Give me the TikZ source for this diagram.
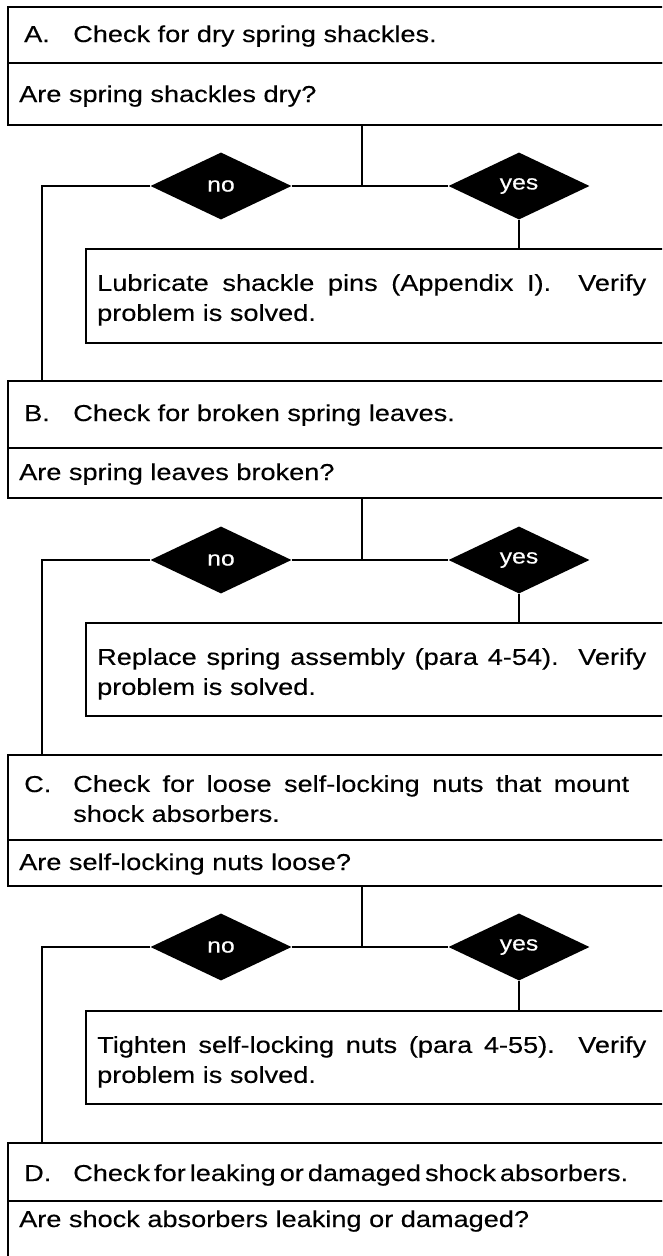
\documentclass[tikz,border=0pt]{standalone}
\usepackage{fontspec}
\setmainfont{Liberation Sans}[FakeStretch=1.18, FakeBold=0.3]
\usetikzlibrary{shapes.geometric}

\begin{document}
\frenchspacing
\begin{tikzpicture}[
    x=1pt, y=-1pt,
    font=\fontsize{23}{30}\selectfont,
    % Define box styles
    box/.style={draw, line width=1.8pt, minimum width=700pt, inner sep=0pt, anchor=north west},
    plain/.style={anchor=base west, inner sep=0pt},
    para/.style={anchor=north west, inner sep=0pt, align=justify},
    % Define the black decision diamonds
    decision/.style={diamond, fill=black, text=white, shape aspect=2.1, minimum width=141pt,
        minimum height=67pt, inner sep=0pt, font=\fontsize{21}{22}\selectfont},
    conn/.style={line width=1.4pt}
]

% Common x positions
\def\xbox{7}      % left edge of the step boxes
\def\xlbl{24}     % step letters
\def\xtxt{73}     % step texts
\def\xq{19}       % questions
\def\xlink{42}    % return line on the left
\def\xmid{362}    % drop below each question
\def\xno{221}
\def\xyes{519}
\def\xact{85}     % left edge of the action boxes
\def\xdo{97}

\useasboundingbox (0,0) rectangle (662,1256);
\clip (0,0) rectangle (662,1256);

% Step A: dry spring shackles
\node[box, minimum height=56pt] (stepA) at (\xbox,6) {};
\node[plain] (lblA) at (\xlbl,42) {A.};
\node[plain] (txtA) at (\xtxt,42) {Check for dry spring shackles.};
\node[box, minimum height=62pt] (askA) at (\xbox,62) {};
\node[plain] (qA) at (\xq,102) {Are spring shackles dry?};
\coordinate (midA) at (\xmid,186);
\coordinate (backA) at (\xlink,186);
\node[decision] (noA) at (\xno,186) {no};
\node[decision] (yesA) at (\xyes,186) {yes};
\node[box, minimum height=94pt] (actA) at (\xact,248) {};
\node[para, text width=549pt] (doA) at (\xdo,274)
    {Lubricate shackle pins (Appendix I).\ \ Verify\linebreak problem is solved.};
\draw[conn] (askA.south -| midA) -- (midA);
\draw[conn] (noA.east) -- (yesA.west);
\draw[conn] (yesA.south) -- (yesA.south |- actA.north);

% Step B: broken spring leaves
\node[box, minimum height=67pt] (stepB) at (\xbox,380) {};
\node[plain] (lblB) at (\xlbl,421) {B.};
\node[plain] (txtB) at (\xtxt,421) {Check for broken spring leaves.};
\node[box, minimum height=50pt] (askB) at (\xbox,447) {};
\node[plain] (qB) at (\xq,480) {Are spring leaves broken?};
\coordinate (midB) at (\xmid,560);
\coordinate (backB) at (\xlink,560);
\node[decision] (noB) at (\xno,560) {no};
\node[decision] (yesB) at (\xyes,560) {yes};
\node[box, minimum height=93pt] (actB) at (\xact,622) {};
\node[para, text width=549pt] (doB) at (\xdo,648)
    {Replace spring assembly (para 4-54).\ \ Verify\linebreak problem is solved.};
\draw[conn] (noA.west) -- (backA) -- (backA |- stepB.north);
\draw[conn] (askB.south -| midB) -- (midB);
\draw[conn] (noB.east) -- (yesB.west);
\draw[conn] (yesB.south) -- (yesB.south |- actB.north);

% Step C: loose self-locking nuts
\node[box, minimum height=85pt] (stepC) at (\xbox,754) {};
\node[plain] (lblC) at (\xlbl,792) {C.};
\node[para, text width=556pt] (txtC) at (\xtxt,775)
    {Check for loose self-locking nuts that mount\linebreak shock absorbers.};
\node[box, minimum height=46pt] (askC) at (\xbox,839) {};
\node[plain] (qC) at (\xq,870) {Are self-locking nuts loose?};
\coordinate (midC) at (\xmid,947);
\coordinate (backC) at (\xlink,947);
\node[decision] (noC) at (\xno,947) {no};
\node[decision] (yesC) at (\xyes,947) {yes};
\node[box, minimum height=93pt] (actC) at (\xact,1010) {};
\node[para, text width=549pt] (doC) at (\xdo,1036)
    {Tighten self-locking nuts (para 4-55).\ \ Verify\linebreak problem is solved.};
\draw[conn] (noB.west) -- (backB) -- (backB |- stepC.north);
\draw[conn] (askC.south -| midC) -- (midC);
\draw[conn] (noC.east) -- (yesC.west);
\draw[conn] (yesC.south) -- (yesC.south |- actC.north);

% Step D: leaking or damaged shock absorbers
\node[box, minimum height=58pt] (stepD) at (\xbox,1142) {};
\node[plain] (lblD) at (\xlbl,1181) {D.};
\node[plain] (txtD) at (\xtxt,1181) {\spaceskip=4pt Check for leaking or damaged shock absorbers.};
\node[box, minimum height=100pt] (askD) at (\xbox,1200) {};
\node[plain] (qD) at (\xq,1227) {Are shock absorbers leaking or damaged?};
\draw[conn] (noC.west) -- (backC) -- (backC |- stepD.north);

\end{tikzpicture}
\end{document}
